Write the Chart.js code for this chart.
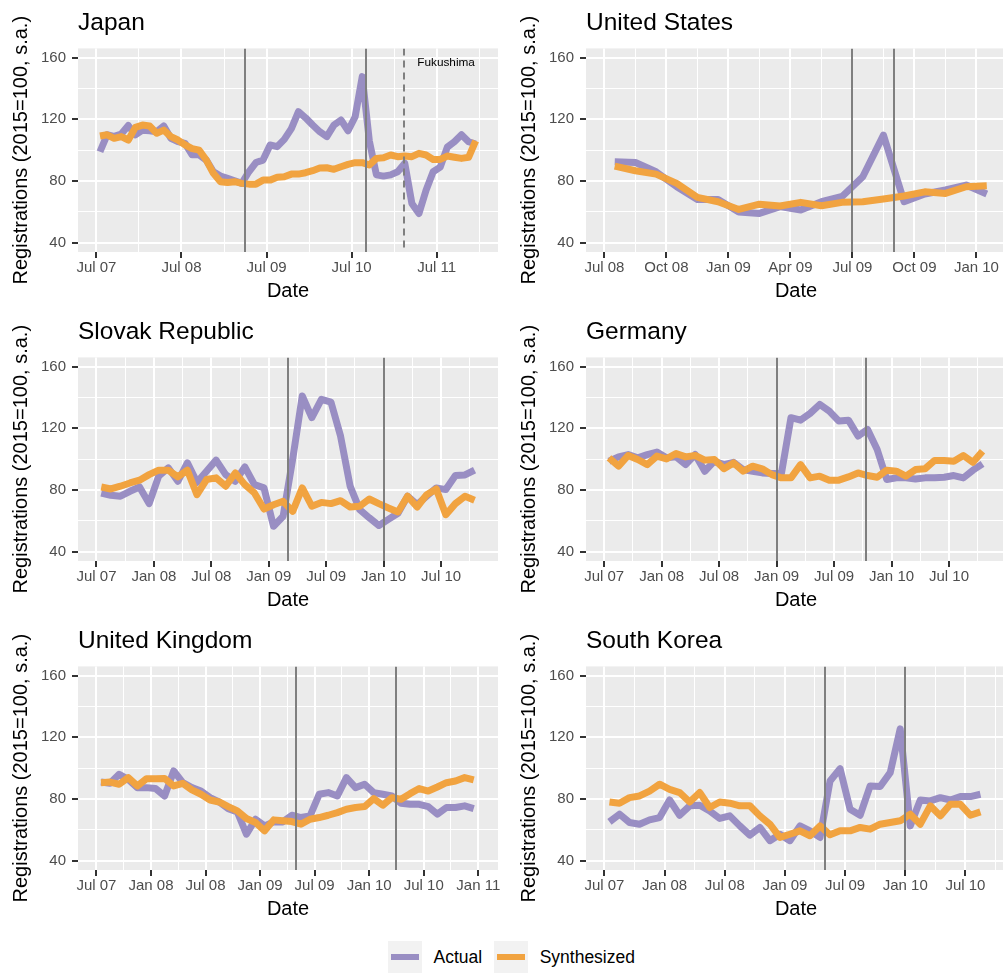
<!DOCTYPE html>
<html>
<head>
<meta charset="utf-8">
<title>Car registrations: actual vs synthesized</title>
<script src="https://cdn.jsdelivr.net/npm/chart.js@4.4.1/dist/chart.umd.min.js"></script>
<style>
  html, body { margin: 0; padding: 0; width: 1003px; height: 974px; overflow: hidden; background: #fff; }
  canvas.panel { position: absolute; }
  #legend { position: absolute; left: 388px; top: 941px; display: flex; align-items: center;
            font-family: "Liberation Sans", Arial, Helvetica, sans-serif; font-size: 17.5px; color: #000; }
  .key { width: 34px; height: 32px; background: #F2F2F2; display: flex; align-items: center; justify-content: center; }
  .key span { display: block; width: 28px; height: 6px; }
  .lab { margin-left: 11.5px; margin-right: 12px; }
</style>
</head>
<body>
<canvas id="pJapan"   class="panel" width="508" height="309" style="left:0;top:0"></canvas>
<canvas id="pUS"      class="panel" width="508" height="309" style="left:508px;top:0"></canvas>
<canvas id="pSlovak"  class="panel" width="508" height="309" style="left:0;top:309px"></canvas>
<canvas id="pGermany" class="panel" width="508" height="309" style="left:508px;top:309px"></canvas>
<canvas id="pUK"      class="panel" width="508" height="309" style="left:0;top:618px"></canvas>
<canvas id="pKorea"   class="panel" width="508" height="309" style="left:508px;top:618px"></canvas>
<div id="legend"></div>

<script>
// ---- series (monthly, seasonally adjusted index, 2015 = 100) ----
const seriesNames = ['Actual', 'Synthesized'];

const japanStart = '2007-07';
const japanActual = [99,110,109,110.5,116,110,113,112.6,112,115.7,
  107.7,105.5,104.4,97,97,93.6,86,83.2,81.7,80.2,
  78.5,86,92,93.6,103.4,102.3,107,114,125,121,
  116.3,112,108.8,116.3,119.6,112.6,121.7,147.7,106,84,
  83.2,84,86,91.5,65.5,59,74,86,89,102,
  105.5,110,105.5,104];
const japanSynth = [109.2,110,107.7,108.8,106.6,114.8,116.3,115.7,111,113,
  108.8,106.6,103.4,101,100,93.6,85,79.6,79,79.6,
  78.5,78,78,80.6,80.6,82.4,82.8,84.5,84.5,85.4,
  86.7,88.4,88.6,87.6,89.3,90.8,91.9,91.9,90.4,94.7,
  95.1,96.9,95.8,96.2,95.8,98,96.9,94,94,96.2,
  95.4,94.7,95.4,106];
const japanTicks = ['Jul 07','Jul 08','Jul 09','Jul 10','Jul 11'];
const japanEvents = ['2009-04-01','2010-09-01'];
const japanShock = '2011-02-12';
const japanShockLabel = 'Fukushima';

const usStart = '2008-07';
const usActual = [92.5,92,86,76.3,68.1,68.1,60,59,63.4,61.2,66.6,70,82.8,109.8,66.6,71.6,74.2,77.4,71.6];
const usSynth  = [89.7,86.7,84.5,78.5,69.4,66.6,61.6,65,63.8,66.2,64,66.2,66.6,68.3,70.3,73,72,76.3,77];
const usTicks = ['Jul 08','Oct 08','Jan 09','Apr 09','Jul 09','Oct 09','Jan 10'];
const usEvents = ['2009-07-01','2009-09-01'];

const slovakStart = '2007-07';
const slovakActual = [78.1,76.6,76,79.2,82,71.2,89,94.4,85.7,97.6,
  85,92.2,99.4,90,85.7,95,83.5,81.4,56.5,63,
  100,141,127,138.8,137,115,82.5,67.3,62,57,
  61,65,76,70.5,76,81.4,80.3,89.4,89.8,92.9];
const slovakSynth = [82,80.7,82.5,84.6,86.4,90,92.9,92.9,88.5,92.9,
  77,86.8,87.9,82.5,91.1,83.5,78.1,67.7,70.5,72.7,
  66.2,81.4,69.5,72,71.2,73.1,69,69.5,74.2,71.2,
  68.4,65.8,76,69,77,80.7,64,71.2,76,73.4];
const slovakTicks = ['Jul 07','Jan 08','Jul 08','Jan 09','Jul 09','Jan 10','Jul 10'];
const slovakEvents = ['2009-03-01','2010-01-01'];

const germanyStart = '2007-07';
const germanyActual = [98.7,101.5,103,100.9,103,104.6,100.9,101.5,96.5,103,
  92.2,98.7,96.5,98,93.3,92.2,91.1,90.7,90.7,126.9,
  125.3,129.7,135.5,131.2,124.7,125.3,115,119.3,106.3,86.8,
  87.9,87.9,87.2,87.9,87.9,88.3,89.4,87.9,92.9,97];
const germanySynth = [100.9,95.5,102.4,99.8,96.5,102,100.2,103.7,101.5,102.4,
  99.4,99.8,93.8,97.6,92.2,95.5,93.8,90,87.9,87.9,
  96.5,87.9,89,86.4,86.4,88.5,91.1,89.4,88.3,92.9,
  92.2,89,93.3,93.8,99.2,99.2,98.7,102.4,98,105.2];
const germanyTicks = ['Jul 07','Jan 08','Jul 08','Jan 09','Jul 09','Jan 10','Jul 10'];
const germanyEvents = ['2009-01-01','2009-10-12'];

const ukStart = '2007-07';
const ukActual = [91,90.2,96,92.8,87.4,87.4,86.8,82,98.2,90.6,
  87.4,85.2,80.9,78.1,73.8,71.7,57.2,66.9,62.6,65.2,
  65.2,69.5,68,69.1,83.1,84.2,82,93.9,87.4,89.6,
  84.2,83.1,82,77.3,76.6,76.6,75.1,70.2,74.5,74.5,
  75.6,73.8];
const ukSynth = [90.6,91,89.6,93.9,88.5,93.2,93.2,93.4,88.5,90.2,
  85.9,83.1,79.4,78.1,75.1,72.3,67.4,64.8,59.4,66.5,
  65.9,65.4,63.7,66.9,68,69.5,71.2,73.4,74.5,75.1,
  80.3,76,80.9,79.9,83.5,86.8,85.2,87.8,90.6,91.7,
  93.9,92.4];
const ukTicks = ['Jul 07','Jan 08','Jul 08','Jan 09','Jul 09','Jan 10','Jul 10','Jan 11'];
const ukEvents = ['2009-05-01','2010-03-31'];

const koreaStart = '2007-07';
const koreaActual = [65.2,70.2,64.8,63.7,66.5,68,79.4,69.5,75.6,76,
  72.3,67.4,69.1,62.6,56.6,61.6,53,57.2,53,62.6,
  59.4,55.1,91.7,99.7,73.4,69.5,88.5,88.1,97.1,125.5,
  62.6,79.4,78.8,80.9,79.4,81.6,81.6,83.1];
const koreaSynth = [78.1,77.3,80.9,82,85.2,89.6,86.3,84.2,78.1,84.2,
  74.5,78.1,77.3,75.6,75.6,69.1,63.7,55.1,57.2,59.4,
  56.2,62.6,56.8,59.4,59.4,61.6,60.5,63.7,64.8,65.9,
  70.2,63.7,75.6,69.1,76.6,76.6,69.5,71.7];
const koreaTicks = ['Jul 07','Jan 08','Jul 08','Jan 09','Jul 09','Jan 10','Jul 10'];
const koreaEvents = ['2009-05-01','2010-01-01'];

const yTicks = [40, 80, 120, 160];

// ---- styling ----
const ACTUAL_COLOR = '#998EC3';
const SYNTH_COLOR = '#F1A340';
const FONT = '"Liberation Sans", Arial, Helvetica, sans-serif';
Chart.defaults.font.family = FONT;

// ---- month arithmetic (x axis is in months since Jan 2000) ----
const MON = ['Jan','Feb','Mar','Apr','May','Jun','Jul','Aug','Sep','Oct','Nov','Dec'];
function labelToMonth(s) { const [m, y] = s.split(' '); return (+y) * 12 + MON.indexOf(m); }
function startToMonth(s) { const [y, m] = s.split('-').map(Number); return (y - 2000) * 12 + (m - 1); }
function dateToMonth(s) {
  const [y, m, d] = s.split('-').map(Number);
  const dim = new Date(y, m, 0).getDate();
  return (y - 2000) * 12 + (m - 1) + (d - 1) / dim;
}

// ---- plugins ----
const panelBackground = {
  id: 'panelBackground',
  beforeDraw(chart) {
    const { ctx, chartArea: a } = chart;
    ctx.save();
    ctx.fillStyle = '#EBEBEB';
    ctx.fillRect(a.left, a.top, a.width, a.height);
    ctx.restore();
  }
};

const eventLines = {
  id: 'eventLines',
  afterDatasetsDraw(chart, args, opts) {
    const { ctx, chartArea: a, scales: { x, y } } = chart;
    ctx.save();
    ctx.beginPath();
    ctx.rect(a.left, a.top, a.width, a.height);
    ctx.clip();
    ctx.strokeStyle = '#7F7F7F';
    ctx.lineWidth = 2;
    (opts.lines || []).forEach(l => {
      const px = Math.round(x.getPixelForValue(dateToMonth(l.date)));
      ctx.setLineDash(l.dashed ? [7, 5] : []);
      ctx.beginPath();
      ctx.moveTo(px, a.top);
      ctx.lineTo(px, a.bottom);
      ctx.stroke();
    });
    if (opts.note) {
      ctx.setLineDash([]);
      ctx.fillStyle = '#000';
      ctx.font = '11.8px ' + FONT;
      ctx.textAlign = 'center';
      ctx.textBaseline = 'middle';
      ctx.fillText(opts.note.text, x.getPixelForValue(dateToMonth(opts.note.date)), y.getPixelForValue(opts.note.value));
    }
    ctx.restore();
  }
};

// ---- panels ----
const panels = [
  { id: 'pJapan', title: 'Japan', start: japanStart, actual: japanActual, synth: japanSynth, ticks: japanTicks,
    lines: japanEvents.map(d => ({ date: d })).concat([{ date: japanShock, dashed: true }]),
    note: { text: japanShockLabel, date: '2011-08-11', value: 157 }, xMin: 87.40, xMax: 146.65 },
  { id: 'pUS', title: 'United States', start: usStart, actual: usActual, synth: usSynth, ticks: usTicks,
    lines: usEvents.map(d => ({ date: d })), xMin: 101.11, xMax: 121.43 },
  { id: 'pSlovak', title: 'Slovak Republic', start: slovakStart, actual: slovakActual, synth: slovakSynth, ticks: slovakTicks,
    lines: slovakEvents.map(d => ({ date: d })), xMin: 88.07, xMax: 131.95 },
  { id: 'pGermany', title: 'Germany', start: germanyStart, actual: germanyActual, synth: germanySynth, ticks: germanyTicks,
    lines: germanyEvents.map(d => ({ date: d })), xMin: 88.10, xMax: 131.95 },
  { id: 'pUK', title: 'United Kingdom', start: ukStart, actual: ukActual, synth: ukSynth, ticks: ukTicks,
    lines: ukEvents.map(d => ({ date: d })), xMin: 87.975, xMax: 134.17 },
  { id: 'pKorea', title: 'South Korea', start: koreaStart, actual: koreaActual, synth: koreaSynth, ticks: koreaTicks,
    lines: koreaEvents.map(d => ({ date: d })), xMin: 88.16, xMax: 130.05 }
];

function buildTicks(labels, min, max) {
  const majors = labels.map(labelToMonth);
  const step = majors[1] - majors[0];
  const all = majors.map(v => ({ value: v, major: true }));
  for (let v = majors[0] - step / 2; v <= max; v += step) {
    if (v >= min) all.push({ value: v, major: false });
  }
  all.sort((a, b) => a.value - b.value);
  const names = {};
  labels.forEach((l, i) => { names[majors[i]] = l; });
  return { all, names };
}

function makePanel(p) {
  const m0 = startToMonth(p.start);
  const toPoints = arr => arr.map((v, i) => ({ x: m0 + i + 0.5, y: v }));
  const xt = buildTicks(p.ticks, p.xMin, p.xMax);
  const isMajorX = v => Object.prototype.hasOwnProperty.call(xt.names, v);
  const yAll = [];
  for (let v = yTicks[0] - 20; v <= yTicks[yTicks.length - 1] + 20; v += 20) if (v >= 34 && v <= 166) yAll.push(v);
  const isMajorY = v => yTicks.includes(v);

  new Chart(document.getElementById(p.id), {
    type: 'line',
    data: {
      datasets: [
        { label: seriesNames[0], data: toPoints(p.actual), borderColor: ACTUAL_COLOR, order: 2 },
        { label: seriesNames[1], data: toPoints(p.synth), borderColor: SYNTH_COLOR, order: 1 }
      ]
    },
    options: {
      responsive: false,
      animation: false,
      devicePixelRatio: 1,
      events: [],
      layout: { padding: { left: 0, right: 10, top: 0, bottom: 6 } },
      elements: {
        point: { radius: 0, hoverRadius: 0 },
        line: { borderWidth: 7, tension: 0, borderJoinStyle: 'round', borderCapStyle: 'butt', fill: false }
      },
      plugins: {
        legend: { display: false },
        tooltip: { enabled: false },
        title: {
          display: true, text: p.title, align: 'start', fullSize: false, color: '#000',
          font: { size: 24.5, weight: 'normal' }, padding: { top: 9, bottom: 10 }
        },
        eventLines: { lines: p.lines, note: p.note }
      },
      scales: {
        x: {
          type: 'linear', min: p.xMin, max: p.xMax,
          afterBuildTicks: s => { s.ticks = xt.all.map(t => ({ value: t.value })); },
          afterFit: s => { s.height = 51; },
          border: { display: false },
          grid: {
            color: '#FFFFFF',
            lineWidth: c => (c.tick && isMajorX(c.tick.value)) ? 2 : 1,
            tickColor: c => (c.tick && isMajorX(c.tick.value)) ? '#333333' : 'rgba(0,0,0,0)',
            tickWidth: 2, tickLength: 6, drawTicks: true
          },
          ticks: {
            autoSkip: false, maxRotation: 0, minRotation: 0, padding: 1,
            color: '#4D4D4D', font: { size: 15 },
            callback: v => xt.names[v] || ''
          },
          title: { display: true, text: 'Date', color: '#000', font: { size: 20 }, padding: { top: 0, bottom: 0 } }
        },
        y: {
          type: 'linear', min: 34, max: 166,
          afterBuildTicks: s => { s.ticks = yAll.map(v => ({ value: v })); },
          afterFit: s => { s.width = 78; },
          border: { display: false },
          grid: {
            color: '#FFFFFF',
            lineWidth: c => (c.tick && isMajorY(c.tick.value)) ? 2 : 1,
            tickColor: c => (c.tick && isMajorY(c.tick.value)) ? '#333333' : 'rgba(0,0,0,0)',
            tickWidth: 2, tickLength: 6, drawTicks: true
          },
          ticks: {
            autoSkip: false, padding: 6, color: '#4D4D4D', font: { size: 15 },
            callback: v => isMajorY(v) ? String(v) : ''
          },
          title: {
            display: true, text: 'Registrations (2015=100, s.a.)', color: '#000',
            font: { size: 20 }, padding: { top: 9, bottom: 0 }
          }
        }
      }
    },
    plugins: [panelBackground, eventLines]
  });
}

panels.forEach(makePanel);

// ---- shared legend ----
const legend = document.getElementById('legend');
[[seriesNames[0], ACTUAL_COLOR], [seriesNames[1], SYNTH_COLOR]].forEach(([name, col]) => {
  const key = document.createElement('div');
  key.className = 'key';
  const sw = document.createElement('span');
  sw.style.background = col;
  key.appendChild(sw);
  const lab = document.createElement('div');
  lab.className = 'lab';
  lab.textContent = name;
  legend.appendChild(key);
  legend.appendChild(lab);
});
</script>
</body>
</html>
